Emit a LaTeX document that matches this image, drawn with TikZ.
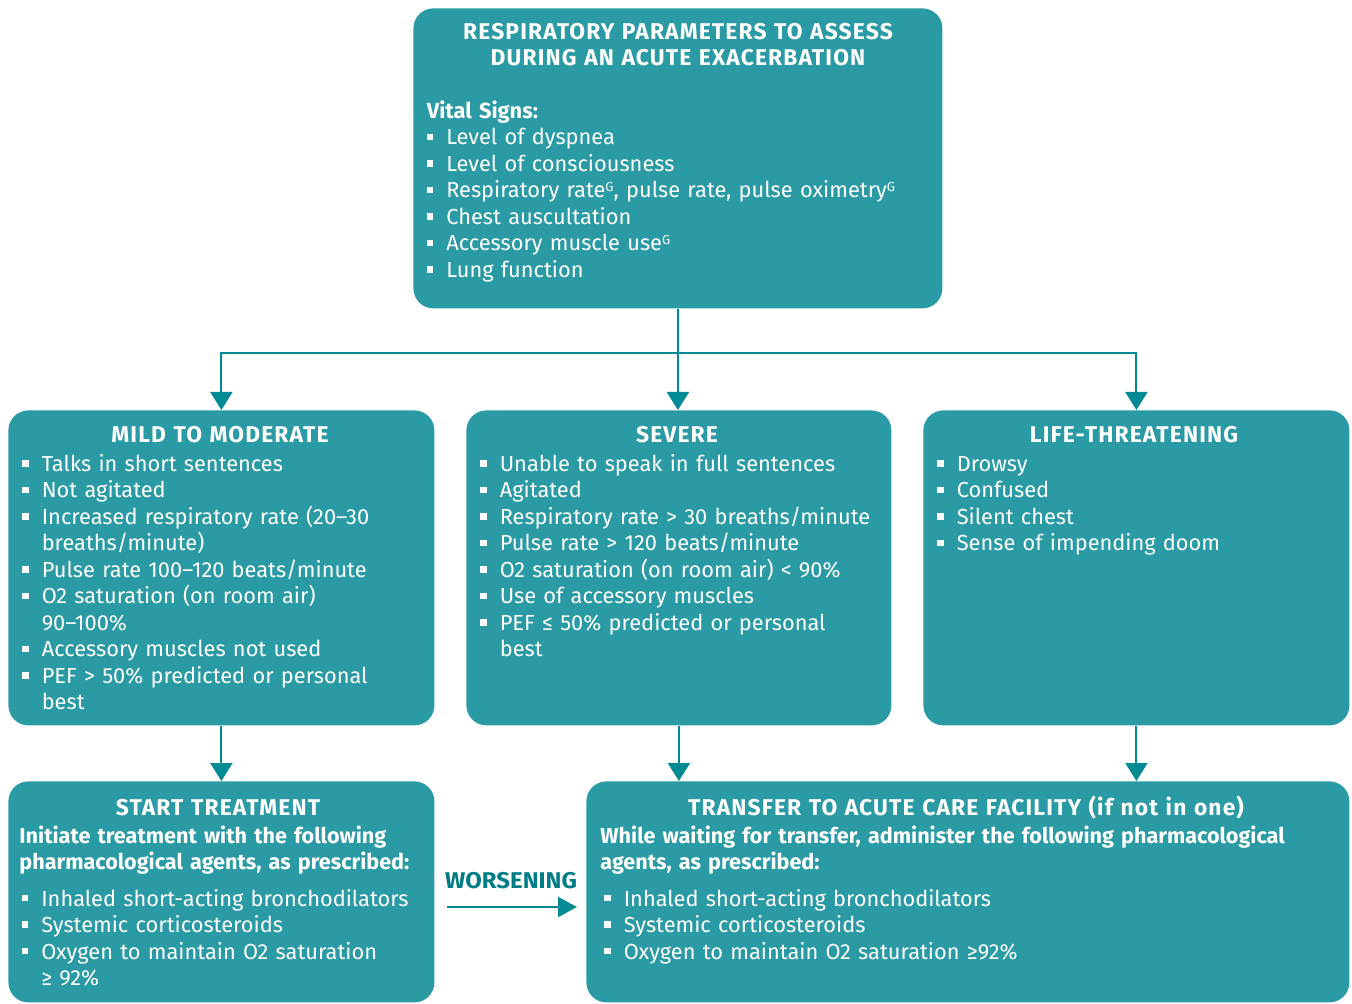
\documentclass[tikz,border=0pt]{standalone}
\usepackage{fontspec}
\setmainfont{Fira Sans}
\usepackage{graphicx}
\usetikzlibrary{arrows.meta, positioning, calc}

\definecolor{boxteal}{RGB}{42,154,164}
\definecolor{lineteal}{RGB}{0,138,147}
\definecolor{wordteal}{RGB}{0,124,134}

\newcommand{\sqb}{\makebox[9.7pt][l]{\rule[2.4pt]{3.2pt}{3.2pt}}}
\newcommand{\hang}{\hspace*{9.7pt}}
\newcommand{\supG}{\raisebox{3.3pt}{\fontsize{6.5}{6.5}\selectfont G}}

\begin{document}
\begin{tikzpicture}[
    x=0.5pt, y=-0.5pt,
    box/.style={fill=boxteal, rounded corners=10pt, anchor=north west, inner sep=0pt},
    ttl/.style={text=white, font=\fontsize{11.4}{13}\selectfont\bfseries\addfontfeature{LetterSpace=5}, anchor=base, align=center, text width=300pt, inner sep=0pt},
    lst/.style={text=white, font=\fontsize{10.9}{13.25}\selectfont, anchor=base west, align=left, text width=380pt, inner sep=0pt},
    conn/.style={draw=lineteal, line width=1pt, -{Triangle[width=11pt, length=9pt]}},
    >=Triangle
]
\useasboundingbox (0,0) rectangle (1352,1004);

% boxes
\node[box, minimum width=264.5pt, minimum height=150pt] (top) at (413,8) {};
\node[box, minimum width=213pt, minimum height=157.5pt] (mild) at (8,410) {};
\node[box, minimum width=212.5pt, minimum height=157.5pt] (severe) at (466,410) {};
\node[box, minimum width=213pt, minimum height=157.5pt] (life) at (923,410) {};
\node[box, minimum width=213pt, minimum height=110.5pt] (start) at (8,781) {};
\node[box, minimum width=381.5pt, minimum height=110.5pt] (transfer) at (586,781) {};

% assess
\node[ttl] (topT) at (678,40) {RESPIRATORY PARAMETERS TO ASSESS\\DURING AN ACUTE EXACERBATION};
\node[lst] (topL) at (426.5,118.5) {\textbf{Vital Signs:}\\
  \sqb Level of dyspnea\\
  \sqb Level of consciousness\\
  \sqb Respiratory rate\supG, pulse rate, pulse oximetry\supG\\
  \sqb Chest auscultation\\
  \sqb Accessory muscle use\supG\\
  \sqb Lung function};

% mild to moderate
\node[ttl] (mildT) at (220,442.5) {MILD TO MODERATE};
\node[lst] (mildL) at (22,471.5) {\sqb Talks in short sentences\\
  \sqb Not agitated\\
  \sqb Increased respiratory rate (20--30\\ \hang breaths/minute)\\
  \sqb Pulse rate 100--120 beats/minute\\
  \sqb O2 saturation (on room air)\\ \hang 90--100\%\\
  \sqb Accessory muscles not used\\
  \sqb PEF > 50\% predicted or personal\\ \hang best};

% severe
\node[ttl] (severeT) at (677,442.5) {SEVERE};
\node[lst] (severeL) at (480,471.5) {\sqb Unable to speak in full sentences\\
  \sqb Agitated\\
  \sqb Respiratory rate > 30 breaths/minute\\
  \sqb Pulse rate > 120 beats/minute\\
  \sqb O2 saturation (on room air) < 90\%\\
  \sqb Use of accessory muscles\\
  \sqb PEF ≤ 50\% predicted or personal\\ \hang best};

% life-threatening
\node[ttl] (lifeT) at (1134,442.5) {LIFE-THREATENING};
\node[lst] (lifeL) at (937,471.5) {\sqb Drowsy\\
  \sqb Confused\\
  \sqb Silent chest\\
  \sqb Sense of impending doom};

% start treatment
\node[ttl] (startT) at (218,815) {START TREATMENT};
\node[lst, font=\fontsize{10.8}{13}\selectfont\bfseries] (startP) at (19,843.3) {Initiate treatment with the following\\pharmacological agents, as prescribed:};
\node[lst] (startL) at (21.5,906) {\sqb Inhaled short-acting bronchodilators\\
  \sqb Systemic corticosteroids\\
  \sqb Oxygen to maintain O2 saturation\\ \hang ≥ 92\%};

% transfer
\node[ttl] (transferT) at (966,815) {TRANSFER TO ACUTE CARE FACILITY (if not in one)};
\node[lst, font=\fontsize{10.8}{13}\selectfont\bfseries] (transferP) at (600,843.3) {While waiting for transfer, administer the following pharmacological\\agents, as prescribed:};
\node[lst] (transferL) at (604,906) {\sqb Inhaled short-acting bronchodilators\\
  \sqb Systemic corticosteroids\\
  \sqb Oxygen to maintain O2 saturation ≥92\%};

% connectors
\coordinate (split) at (top.south |- 0,353);
\draw[lineteal, line width=1pt] (top.south) -- (split);
\draw[conn] (split) -| (mild.north);
\draw[conn] (split) -- (split |- severe.north);
\draw[conn] (split) -| (life.north);
\draw[conn] (mild.south) -- (start.north);
\draw[conn] (severe.south) -- (severe.south |- transfer.north);
\draw[conn] (life.south) -- (life.south |- transfer.north);

% worsening
\coordinate (wsA) at (447,907);
\coordinate (wsB) at (577,907);
\draw[conn, -{Triangle[width=10pt, length=9.5pt]}] (wsA) -- (wsB);
\node[text=wordteal, anchor=base, inner sep=0pt, font=\fontsize{11.4}{14}\selectfont\bfseries] (worse) at (511,888) {\scalebox{1.05}[1]{WORSENING}};

\end{tikzpicture}
\end{document}
